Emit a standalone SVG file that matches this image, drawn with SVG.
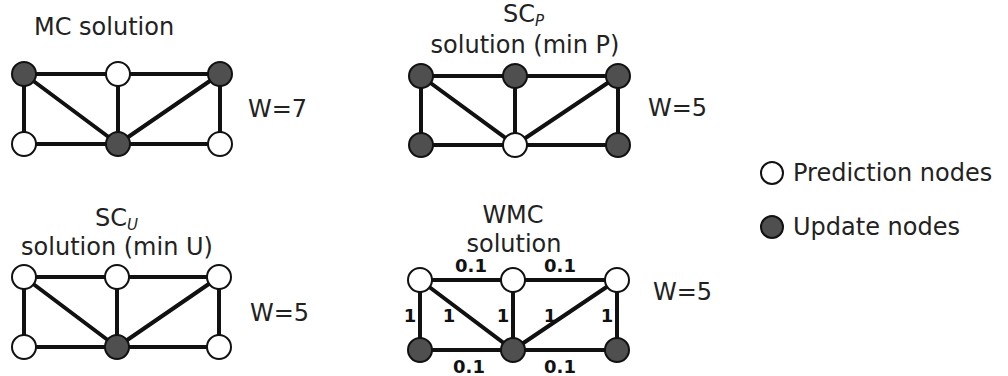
<svg xmlns="http://www.w3.org/2000/svg" width="1008" height="376" viewBox="0 0 1008 376">
  <style>
    .bg { fill: #ffffff; }
    .edge { stroke: #111111; stroke-width: 4; stroke-linecap: round; fill: none; }
    .pred { fill: #ffffff; stroke: #111111; stroke-width: 2; }
    .upd { fill: #4f4f4f; stroke: #111111; stroke-width: 2; }
    .title { font-family: "DejaVu Sans", Verdana, sans-serif; font-size: 24px; fill: #222222; }
    .sub { font-family: "DejaVu Sans", Verdana, sans-serif; font-size: 15px; font-style: italic; fill: #222222; }
    .wt { font-family: "DejaVu Sans", Verdana, sans-serif; font-size: 18px; font-weight: bold; fill: #111111; }
  </style>
  <rect class="bg" x="0" y="0" width="1008" height="376"/>

  <!-- MC solution -->
  <g id="mc">
    <text class="title" x="34" y="35">MC solution</text>
    <g class="connectors">
      <line class="edge" x1="24" y1="74" x2="118" y2="74"/>
      <line class="edge" x1="118" y1="74" x2="220" y2="74"/>
      <line class="edge" x1="24" y1="144" x2="118" y2="144"/>
      <line class="edge" x1="118" y1="144" x2="220" y2="144"/>
      <line class="edge" x1="24" y1="74" x2="24" y2="144"/>
      <line class="edge" x1="118" y1="74" x2="118" y2="144"/>
      <line class="edge" x1="220" y1="74" x2="220" y2="144"/>
      <line class="edge" x1="24" y1="74" x2="118" y2="144"/>
      <line class="edge" x1="220" y1="74" x2="118" y2="144"/>
    </g>
    <circle class="upd" cx="24" cy="74" r="12"/>
    <circle class="pred" cx="118" cy="74" r="12"/>
    <circle class="upd" cx="220" cy="74" r="12"/>
    <circle class="pred" cx="24" cy="144" r="12"/>
    <circle class="upd" cx="118" cy="144" r="12"/>
    <circle class="pred" cx="220" cy="144" r="12"/>
    <text class="title" x="248" y="117">W=7</text>
  </g>

  <!-- SC_P solution -->
  <g id="scp">
    <text class="title" x="503" y="22">SC<tspan class="sub" dy="4">P</tspan></text>
    <text class="title" x="525" y="53" text-anchor="middle">solution (min P)</text>
    <g class="connectors">
      <line class="edge" x1="421" y1="76" x2="515" y2="76"/>
      <line class="edge" x1="515" y1="76" x2="618" y2="76"/>
      <line class="edge" x1="421" y1="145" x2="515" y2="145"/>
      <line class="edge" x1="515" y1="145" x2="618" y2="145"/>
      <line class="edge" x1="421" y1="76" x2="421" y2="145"/>
      <line class="edge" x1="515" y1="76" x2="515" y2="145"/>
      <line class="edge" x1="618" y1="76" x2="618" y2="145"/>
      <line class="edge" x1="421" y1="76" x2="515" y2="145"/>
      <line class="edge" x1="618" y1="76" x2="515" y2="145"/>
    </g>
    <circle class="upd" cx="421" cy="76" r="12"/>
    <circle class="upd" cx="515" cy="76" r="12"/>
    <circle class="upd" cx="618" cy="76" r="12"/>
    <circle class="upd" cx="421" cy="145" r="12"/>
    <circle class="pred" cx="515" cy="145" r="12"/>
    <circle class="upd" cx="618" cy="145" r="12"/>
    <text class="title" x="648" y="116">W=5</text>
  </g>

  <!-- SC_U solution -->
  <g id="scu">
    <text class="title" x="95" y="226">SC<tspan class="sub" dy="4">U</tspan></text>
    <text class="title" x="117" y="255" text-anchor="middle">solution (min U)</text>
    <g class="connectors">
      <line class="edge" x1="24" y1="277" x2="117" y2="277"/>
      <line class="edge" x1="117" y1="277" x2="219" y2="277"/>
      <line class="edge" x1="24" y1="347" x2="117" y2="347"/>
      <line class="edge" x1="117" y1="347" x2="219" y2="347"/>
      <line class="edge" x1="24" y1="277" x2="24" y2="347"/>
      <line class="edge" x1="117" y1="277" x2="117" y2="347"/>
      <line class="edge" x1="219" y1="277" x2="219" y2="347"/>
      <line class="edge" x1="24" y1="277" x2="117" y2="347"/>
      <line class="edge" x1="219" y1="277" x2="117" y2="347"/>
    </g>
    <circle class="pred" cx="24" cy="277" r="12"/>
    <circle class="pred" cx="117" cy="277" r="12"/>
    <circle class="pred" cx="219" cy="277" r="12"/>
    <circle class="pred" cx="24" cy="347" r="12"/>
    <circle class="upd" cx="117" cy="347" r="12"/>
    <circle class="pred" cx="219" cy="347" r="12"/>
    <text class="title" x="250" y="321">W=5</text>
  </g>

  <!-- WMC solution -->
  <g id="wmc">
    <text class="title" x="513" y="223" text-anchor="middle">WMC</text>
    <text class="title" x="514" y="252" text-anchor="middle">solution</text>
    <g class="connectors">
      <line class="edge" x1="420" y1="280" x2="513" y2="280"/>
      <line class="edge" x1="513" y1="280" x2="617" y2="280"/>
      <line class="edge" x1="420" y1="350" x2="513" y2="350"/>
      <line class="edge" x1="513" y1="350" x2="617" y2="350"/>
      <line class="edge" x1="420" y1="280" x2="420" y2="350"/>
      <line class="edge" x1="513" y1="280" x2="513" y2="350"/>
      <line class="edge" x1="617" y1="280" x2="617" y2="350"/>
      <line class="edge" x1="420" y1="280" x2="513" y2="350"/>
      <line class="edge" x1="617" y1="280" x2="513" y2="350"/>
    </g>
    <circle class="pred" cx="420" cy="280" r="12"/>
    <circle class="pred" cx="513" cy="280" r="12"/>
    <circle class="pred" cx="617" cy="280" r="12"/>
    <circle class="upd" cx="420" cy="350" r="12"/>
    <circle class="upd" cx="513" cy="350" r="12"/>
    <circle class="upd" cx="617" cy="350" r="12"/>
    <text class="wt" x="471" y="272" text-anchor="middle">0.1</text>
    <text class="wt" x="560" y="272" text-anchor="middle">0.1</text>
    <text class="wt" x="469" y="373" text-anchor="middle">0.1</text>
    <text class="wt" x="560" y="373" text-anchor="middle">0.1</text>
    <text class="wt" x="410" y="322" text-anchor="middle">1</text>
    <text class="wt" x="449" y="322" text-anchor="middle">1</text>
    <text class="wt" x="503" y="322" text-anchor="middle">1</text>
    <text class="wt" x="550" y="322" text-anchor="middle">1</text>
    <text class="wt" x="607" y="322" text-anchor="middle">1</text>
    <text class="title" x="653" y="300">W=5</text>
  </g>

  <!-- legend -->
  <g id="legend-prediction">
    <circle class="pred" cx="772" cy="173" r="11"/>
    <text class="title" x="793" y="181">Prediction nodes</text>
  </g>
  <g id="legend-update">
    <circle class="upd" cx="772" cy="227" r="11"/>
    <text class="title" x="793" y="235">Update nodes</text>
  </g>
</svg>
